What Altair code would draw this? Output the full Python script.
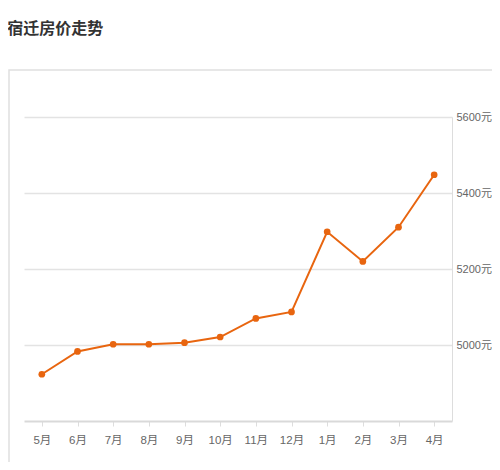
import altair as alt
import pandas as pd

months = ['5月', '6月', '7月', '8月', '9月', '10月', '11月', '12月', '1月', '2月', '3月', '4月']
prices = [4923, 4983, 5002, 5002, 5006, 5021, 5070, 5087, 5298, 5220, 5310, 5448]
y_ticks = [5000, 5200, 5400, 5600]

orange = '#e8650f'
label_font = 'Liberation Sans, Noto Sans CJK SC'

data = pd.DataFrame({'month': months, 'price': prices})

base = alt.Chart(data).encode(
    x=alt.X('month:N', sort=None, title=None,
            axis=alt.Axis(labelAngle=0, labelColor='#666', labelFontSize=11.5, labelFont=label_font,
                          domainColor='#d9d9d9', domainWidth=2, tickColor='#ddd', tickSize=5,
                          labelPadding=8, grid=False)),
    y=alt.Y('price:Q', title=None, scale=alt.Scale(domain=[4800, 5600], nice=False),
            axis=alt.Axis(orient='right', values=y_ticks, labelExpr="datum.value + '元'",
                          labelColor='#666', labelFontSize=11, labelFont=label_font,
                          domainColor='#ddd', ticks=False, labelPadding=4,
                          grid=True, gridColor='#e3e3e3', gridWidth=1.5)),
)

line = base.mark_line(color=orange, strokeWidth=2)
points = base.mark_circle(color=orange, size=45, opacity=1)

# light card frame around the plot
card = alt.Chart(pd.DataFrame({'a': [0]})).mark_rect(
    fillOpacity=0, stroke='#e0e0e0', strokeWidth=1.5
).encode(x=alt.value(-15), x2=alt.value(520), y=alt.value(-47), y2=alt.value(400))

chart = (card + line + points).properties(
    width=428,
    height=304,
    padding={'left': 16, 'top': 109, 'right': 40, 'bottom': 41},
    autosize=alt.AutoSizeParams(type='none'),
    title=alt.Title('宿迁房价走势', anchor='start', fontSize=16, fontWeight='bold',
                    color='#333', font='Noto Sans CJK SC', dx=-1, offset=32),
).configure_view(stroke=None)

chart.save('out.html', embed_options={'renderer': 'svg', 'actions': False})
